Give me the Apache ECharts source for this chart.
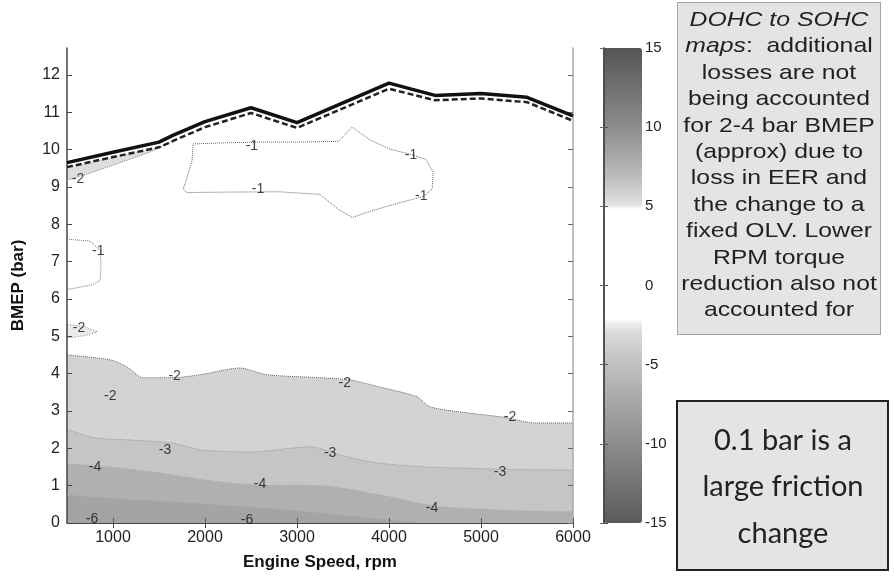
<!DOCTYPE html>
<html><head><meta charset="utf-8">
<script src="https://cdn.jsdelivr.net/npm/echarts@6/dist/echarts.min.js"></script>
<style>html,body{margin:0;padding:0;background:#fff}#c{width:894px;height:581px}</style>
</head><body><div id="c"></div>
<script>
// ---------- data ----------
const xTicks = [1000, 2000, 3000, 4000, 5000, 6000];
const yTicks = [0,1,2,3,4,5,6,7,8,9,10,11,12];
const cbTicks = [-15, -10, -5, 0, 5, 10, 15];

// full-load (WOT) boundary, solid and dashed curves [rpm, BMEP bar]
const wotSolid = [[500,9.65],[1000,9.93],[1500,10.2],[1650,10.38],[2000,10.75],[2500,11.12],[3000,10.72],[4000,11.78],[4500,11.45],[5000,11.5],[5500,11.4],[6000,10.9]];
const wotDashed = [[500,9.53],[1000,9.8],[1500,10.06],[1650,10.23],[2000,10.6],[2500,10.98],[3000,10.58],[4000,11.63],[4500,11.32],[5000,11.37],[5500,11.27],[6000,10.77]];

// -2 region just under the WOT line at low speed (lower edge)
const topLeftLower = [[1650,10.23],[1400,9.93],[1000,9.58],[700,9.33],[500,9.18]];

// -1 contours (dotted)
const c1Island = [[1870,10.15],[2200,10.18],[2600,10.2],[3000,10.2],[3450,10.22],[3600,10.6],[3800,10.25],[4000,10.02],[4250,9.86],[4400,9.74],[4480,9.4],[4470,8.95],[4370,8.74],[4120,8.58],[3800,8.35],[3600,8.18],[3450,8.4],[3250,8.8],[2800,8.87],[2200,8.86],[1800,8.85],[1765,8.95],[1810,9.3],[1860,9.7],[1870,10.15]];
const c1Left = [[500,7.6],[750,7.55],[860,7.3],[870,6.9],[860,6.5],[780,6.38],[500,6.25]];

// -2 small blob at low speed
const c2Blob = [[500,5.32],[700,5.25],[830,5.12],[700,5.02],[500,4.95]];

// filled contour boundaries (filled down to 0 bar)
const c2Main = [[500,4.5],[967,4.37],[1152,4.18],[1326,3.89],[1652,3.89],[1946,3.97],[2380,4.15],[2674,3.97],[3250,3.89],[3576,3.83],[3935,3.62],[4304,3.38],[4446,3.11],[4848,2.95],[5283,2.82],[5565,2.68],[6000,2.68]];
const c3Main = [[500,2.5],[800,2.28],[1200,2.22],[1650,2.14],[1950,1.96],[2500,1.9],[3140,2.04],[3500,1.8],[3870,1.61],[4400,1.5],[4770,1.47],[5400,1.43],[6000,1.42]];
const c4Main = [[500,1.58],[967,1.5],[1500,1.34],[2000,1.15],[2500,1.02],[3250,1.0],[3500,0.93],[4000,0.7],[4500,0.45],[5000,0.37],[5500,0.32],[6000,0.3]];
const c5Main = [[500,0.75],[1000,0.65],[1500,0.58],[2000,0.5],[2500,0.42],[3000,0.32],[3500,0.2],[4000,0.08],[4300,0]];

// contour labels [rpm, BMEP, text]
const contourLabels = [
  [620,9.2,'-2'],[2510,10.1,'-1'],[2576,8.93,'-1'],[4240,9.84,'-1'],[4350,8.74,'-1'],
  [840,7.27,'-1'],[630,5.23,'-2'],[1670,3.94,'-2'],[970,3.4,'-2'],[3520,3.75,'-2'],
  [5315,2.84,'-2'],[1565,1.96,'-3'],[3360,1.88,'-3'],[5207,1.37,'-3'],[804,1.5,'-4'],
  [2598,1.05,'-4'],[4467,0.4,'-4'],[772,0.11,'-6'],[2457,0.08,'-6']
];

// colour bar grey levels [value, grey 0-255]
const cbStops = [[-15,90],[-10,140],[-5,192],[-3,218],[-2.4,236],[-2.3,255],[4.8,255],[4.9,240],[5.2,222],[7,185],[10,140],[15,85]];

// ---------- build ----------
function greyAt(v){
  for (let i=0;i<cbStops.length-1;i++){
    const a=cbStops[i], b=cbStops[i+1];
    if (v>=a[0] && v<=b[0]) { const t=(v-a[0])/(b[0]-a[0]); return Math.round(a[1]+t*(b[1]-a[1])); }
  }
  return 255;
}
const cbColors = [];
for (let v=-15; v<=15.001; v+=0.1){ const g=greyAt(v); cbColors.push('rgb('+g+','+g+','+g+')'); }

const chart = echarts.init(document.getElementById('c'), null, {renderer:'canvas'});
const FONT = 'Liberation Sans, Arial, sans-serif';
const plain = function(v){ return String(v); };

function polygon(points, fill, stroke, dash, z){
  return {type:'custom', coordinateSystem:'cartesian2d', xAxisIndex:0, yAxisIndex:0, silent:true, z:z||2,
    data:[[points[0][0], points[0][1]]],
    renderItem:function(params, api){
      return {type:'polygon', shape:{points: points.map(function(p){return api.coord(p);})},
        style:{fill: fill, stroke: stroke||null, lineWidth:1, lineDash: dash||null}};
    }};
}
function areaLine(pts, fill, lineColor, z){
  return {type:'line', xAxisIndex:0, yAxisIndex:0, data:pts, showSymbol:false, silent:true, smooth:0.25, z:z,
    lineStyle:{color:lineColor||fill, width:1, type:'dotted'}, areaStyle:{color:fill, opacity:1, origin:'start'}};
}
function plainLine(pts, color, width, type, z){
  return {type:'line', xAxisIndex:0, yAxisIndex:0, data:pts, showSymbol:false, silent:true, z:z,
    lineStyle:{color:color, width:width, type:type}};
}

const option = {
  animation:false,
  backgroundColor:'#fff',
  grid:[
    {left:67, top:48, width:506, height:475},
    {left:604, top:48, width:38, height:475}
  ],
  xAxis:[
    {type:'value', gridIndex:0, min:500, max:6000, position:'bottom', z:5,
     name:'Engine Speed, rpm', nameLocation:'middle', nameGap:31,
     nameTextStyle:{fontFamily:FONT, fontWeight:'bold', fontSize:17, color:'#111'},
     axisLine:{lineStyle:{color:'#888', width:1}},
     axisTick:{inside:true, length:5, customValues:xTicks, lineStyle:{color:'#555'}},
     axisLabel:{customValues:xTicks, formatter:plain, fontFamily:FONT, fontSize:16, color:'#222', margin:7},
     splitLine:{show:false}},
    {type:'value', gridIndex:0, min:500, max:6000, position:'top', z:5,
     axisLine:{lineStyle:{color:'#444', width:1}},
     axisTick:{inside:true, length:5, customValues:xTicks, lineStyle:{color:'#444'}},
     axisLabel:{show:false}, splitLine:{show:false}},
    {type:'value', gridIndex:1, min:0, max:1, show:false}
  ],
  yAxis:[
    {type:'value', gridIndex:0, min:0, max:12.72, position:'left', z:5,
     name:'BMEP (bar)', nameLocation:'middle', nameGap:40,
     nameTextStyle:{fontFamily:FONT, fontWeight:'bold', fontSize:17, color:'#111'},
     axisLine:{lineStyle:{color:'#444', width:1.5}},
     axisTick:{inside:true, length:5, customValues:yTicks, lineStyle:{color:'#444'}},
     axisLabel:{customValues:yTicks, formatter:plain, fontFamily:FONT, fontSize:16, color:'#222', margin:7},
     splitLine:{show:false}},
    {type:'value', gridIndex:0, min:0, max:12.72, position:'right', z:5,
     axisLine:{lineStyle:{color:'#aaa', width:1.5}},
     axisTick:{inside:true, length:5, customValues:yTicks, lineStyle:{color:'#666'}},
     axisLabel:{show:false}, splitLine:{show:false}},
    {type:'value', gridIndex:1, min:-15, max:15, interval:5, position:'right', z:10,
     axisLine:{show:true, lineStyle:{color:'#999', width:1.5}},
     axisTick:{inside:true, length:4, lineStyle:{color:'#666'}},
     axisLabel:{fontFamily:FONT, fontSize:15, color:'#222', margin:3},
     splitLine:{show:false}},
    {type:'value', gridIndex:1, min:-15, max:15, interval:5, position:'left', z:10,
     axisLine:{show:true, lineStyle:{color:'#333', width:1.5}},
     axisTick:{inside:true, length:4, lineStyle:{color:'#555'}},
     axisLabel:{show:false}, splitLine:{show:false}}
  ],
  visualMap:{type:'continuous', min:-15, max:15, seriesIndex:[0], calculable:false, show:true,
    left:604, top:48, itemWidth:38, itemHeight:475, padding:0, text:null, hoverLink:false,
    inRange:{color:cbColors}},
  series:[
    // dummy series bound to the colour bar
    {type:'scatter', xAxisIndex:2, yAxisIndex:2, data:[], silent:true},
    areaLine(c2Main, '#d3d3d3', '#666', 2),
    areaLine(c3Main, '#c5c5c5', '#999', 3),
    areaLine(c4Main, '#b0b0b0', '#aaa', 4),
    areaLine(c5Main, '#a4a4a4', '#a4a4a4', 5),
    polygon(wotDashed.filter(function(p){return p[0]<=1650;}).concat(topLeftLower), '#dddddd', null, null, 3),
    polygon(c2Blob, '#eaeaea', '#777', [1,2], 3),
    plainLine(topLeftLower, '#888', 1, 'dotted', 6),
    plainLine(c1Island, '#666', 1, 'dotted', 6),
    plainLine(c1Left, '#777', 1, 'dotted', 6),
    plainLine(wotSolid, '#111', 3.5, 'solid', 8),
    plainLine(wotDashed, '#222', 2.5, [6,3], 8),
    {type:'scatter', xAxisIndex:0, yAxisIndex:0, symbolSize:0, silent:true, z:9,
     data:contourLabels.map(function(d){return {value:[d[0],d[1]], name:d[2]};}),
     label:{show:true, position:'inside', formatter:'{b}', fontFamily:FONT, fontSize:14, color:'#111'}}
  ],
  graphic:[
    {type:'rect', shape:{x:677.5, y:2.5, width:203, height:332},
     style:{fill:'#e4e4e4', stroke:'#555', lineWidth:1, lineDash:[1,1]}, z:10},
    {type:'text', x:779, y:7, z:11, scaleX:1.18,
     style:{text:'{i|DOHC to SOHC}\n{i|maps}{n|:  additional}\n{n|losses are not}\n{n|being accounted}\n{n|for 2-4 bar BMEP}\n{n|(approx) due to}\n{n|loss in EER and}\n{n|the change to a}\n{n|fixed OLV. Lower}\n{n|RPM torque}\n{n|reduction also not}\n{n|accounted for}',
       align:'center', verticalAlign:'top',
       rich:{
         i:{fontFamily:FONT, fontSize:21, fontStyle:'italic', fill:'#222', lineHeight:26.4},
         n:{fontFamily:FONT, fontSize:21, fill:'#222', lineHeight:26.4}
       }}},
    {type:'rect', shape:{x:677, y:401, width:211, height:169},
     style:{fill:'#e4e4e4', stroke:'#222', lineWidth:2}, z:10},
    {type:'text', x:783, y:417, z:11,
     style:{text:'0.1 bar is a\nlarge friction\nchange', align:'center', verticalAlign:'top',
       font:'29px Lato, "Open Sans", sans-serif', lineHeight:46.5, fill:'#222'}}
  ]
};
chart.setOption(option);
</script>
</body></html>
